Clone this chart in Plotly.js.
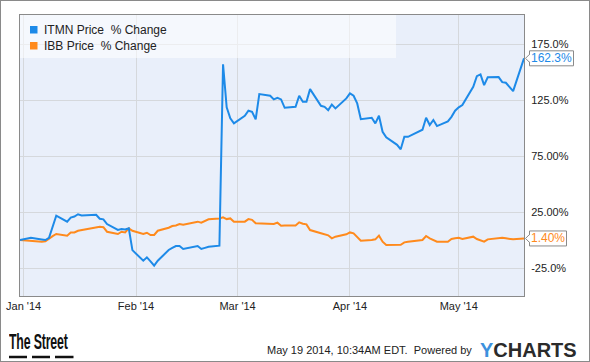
<!DOCTYPE html>
<html>
<head>
<meta charset="utf-8">
<script src="https://cdn.plot.ly/plotly-3.0.1.min.js"></script>
<style>
html,body{margin:0;padding:0;background:#fff;}
#wrap{position:relative;width:590px;height:362px;}
#chart{position:absolute;left:0;top:0;width:590px;height:362px;}
#frame{position:absolute;left:0;top:0;width:590px;height:362px;box-sizing:border-box;border:1px solid #8a8a8a;pointer-events:none;}
#logo{position:absolute;left:9px;top:331px;font-family:'Liberation Sans',Arial,sans-serif;font-weight:bold;font-size:22px;line-height:22px;color:#111;white-space:nowrap;transform:scaleX(0.56);transform-origin:0 0;letter-spacing:-0.3px;}
</style>
</head>
<body>
<div id="wrap"><div id="chart"></div><div id="logo">The Street</div><div id="frame"></div></div>
<script>
// ---- data ----
const dates = [
 '2013-12-31',
 '2014-01-02','2014-01-03','2014-01-06','2014-01-07','2014-01-08','2014-01-09','2014-01-10','2014-01-13','2014-01-14','2014-01-15','2014-01-16','2014-01-17','2014-01-21','2014-01-22','2014-01-23','2014-01-24','2014-01-27','2014-01-28','2014-01-29','2014-01-30','2014-01-31',
 '2014-02-03','2014-02-04','2014-02-05','2014-02-06','2014-02-07','2014-02-10','2014-02-11','2014-02-12','2014-02-13','2014-02-14','2014-02-18','2014-02-19','2014-02-20','2014-02-21','2014-02-24','2014-02-25','2014-02-26','2014-02-27','2014-02-28',
 '2014-03-03','2014-03-04','2014-03-05','2014-03-06','2014-03-07','2014-03-10','2014-03-11','2014-03-12','2014-03-13','2014-03-14','2014-03-17','2014-03-18','2014-03-19','2014-03-20','2014-03-21','2014-03-24','2014-03-25','2014-03-26','2014-03-27','2014-03-28','2014-03-31',
 '2014-04-01','2014-04-02','2014-04-03','2014-04-04','2014-04-07','2014-04-08','2014-04-09','2014-04-10','2014-04-11','2014-04-14','2014-04-15','2014-04-16','2014-04-17','2014-04-21','2014-04-22','2014-04-23','2014-04-24','2014-04-25','2014-04-28','2014-04-29','2014-04-30',
 '2014-05-01','2014-05-02','2014-05-05','2014-05-06','2014-05-07','2014-05-08','2014-05-09','2014-05-12','2014-05-13','2014-05-14','2014-05-15','2014-05-16','2014-05-19'
];
const itmn = [
 0,
 1, 2, 0.5, 0, 2, 12, 21.7, 16.4, 20, 21, 23, 22, 22.6, 19, 18.5, 14.3, 9, 9.8, 9.5, 10.4, -9,
 -18.5, -15.5, -19, -22.9, -18.5, -8.9, -7, -5.4, -5.4, -8, -5.4, -8, -7, -6, -5, 157, 118.5, 108.7, 104.2,
 111, 115.5, 114.6, 107.8, 130.4, 128.9, 125.6, 127, 125.6, 118.1, 119, 128.9, 123.5, 123.5, 134.8, 119.9, 119, 116, 121, 117.6, 126.5,
 131, 128.9, 122, 108, 109.2, 104.2, 111, 96.7, 91.7, 85, 81, 92.2, 92.2, 98.5, 109.2, 102.7, 107.2, 101.8, 106, 110, 115.5,
 118.5, 120.5, 136.9, 146.4, 148, 138.4, 145.3, 145.5, 141, 140.5, 137, 133, 162.3
];
const ibb = [
 0,
 -0.5, -1, -1.5, -1.2, 1.5, 3.5, 5.4, 3.9, 6.8, 6.8, 8.3, 8.8, 10.8, 11.9, 11.5, 7.4, 5.4, 7.4, 6.8, 10.4, 8.3,
 5.4, 6.5, 4.5, 4.5, 8.3, 11, 12.5, 13, 14.3, 13.7, 16.4, 15.5, 17, 18.5, 19.3, 20.2, 18.7, 19.3, 16.4,
 16.4, 18.7, 18, 14.9, 14.9, 14.9, 14.3, 15.5, 12.8, 13, 13, 15.8, 14.5, 14, 8.9, 6, 5.4, 4.2, 1.5, 3, 5.1,
 6.8, 6, 3, -0.6, 0, 0.6, 3.9, -1.5, -4.5, -4.5, -4.2, -2.1, -1.5, 0, 3.6, 1.5, 0, -1.5, -1.5, 0.9, 1.5,
 2, 0.9, 3, 0.9, 0, -1.5, 0.6, 2, 2, 1.5, 1, 0.6, 1.4
];
const seriesNames = ['ITMN Price\u00a0 % Change', 'IBB Price\u00a0 % Change'];
const xTickVals = ['2014-01-01','2014-02-01','2014-03-01','2014-04-01','2014-05-01'];
const xTickText = ["Jan '14","Feb '14","Mar '14","Apr '14","May '14"];
const yTickVals = [-25, 25, 75, 125, 175];
const yTickText = ['-25.0%','25.00%','75.00%','125.0%','175.0%'];

// ---- styling ----
const BLUE = '#1d8ae8', ORANGE = '#ff8a1c';
const W = 590, H = 362, L = 20, R = 66, T = 15, B = 66;
const PW = W - L - R, PH = H - T - B;
const yRange = [-50, 201];
const px = x => (x - L) / PW;          // pixel -> paper x
const py = y => (H - B - y) / PH;      // pixel -> paper y
const vy = v => (v - yRange[0]) / (yRange[1] - yRange[0]);

const traces = [
  {x: dates, y: ibb, type: 'scatter', mode: 'lines', name: seriesNames[1],
   line: {color: ORANGE, width: 2}, hoverinfo: 'skip'},
  {x: dates, y: itmn, type: 'scatter', mode: 'lines', name: seriesNames[0],
   line: {color: BLUE, width: 2}, hoverinfo: 'skip'}
];

function endLabel(v, txt, color, w) {
  const shapes = [
    {type: 'rect', xref: 'paper', yref: 'paper', xsizemode: 'pixel', ysizemode: 'pixel',
     xanchor: 1, yanchor: vy(v), x0: 5.5, x1: 5.5 + w, y0: -7.5, y1: 7.5,
     fillcolor: '#ffffff', line: {color: '#8a8a8a', width: 1}, layer: 'above'},
    {type: 'path', xref: 'paper', yref: 'paper', xsizemode: 'pixel', ysizemode: 'pixel',
     xanchor: 1, yanchor: vy(v), path: 'M6,-4L1.5,0L6,4Z',
     fillcolor: '#ffffff', line: {width: 0}, layer: 'above'},
    {type: 'path', xref: 'paper', yref: 'paper', xsizemode: 'pixel', ysizemode: 'pixel',
     xanchor: 1, yanchor: vy(v), path: 'M5.5,-4L1.5,0L5.5,4',
     line: {color: '#8a8a8a', width: 1}, layer: 'above'}
  ];
  const ann = {xref: 'paper', yref: 'y', x: 1, y: v, xanchor: 'center', yanchor: 'middle',
    xshift: 5.5 + w / 2, text: txt, showarrow: false,
    font: {family: 'Liberation Sans, Arial, sans-serif', size: 12, color: color}};
  return {shapes, ann};
}

const e1 = endLabel(itmn[itmn.length - 1], itmn[itmn.length - 1].toFixed(1) + '%', BLUE, 44);
const e2 = endLabel(ibb[ibb.length - 1], ibb[ibb.length - 1].toFixed(2) + '%', ORANGE, 37);

const shapes = [
  // legend background
  {type: 'rect', xref: 'paper', yref: 'paper', x0: 0, x1: px(396), y0: py(58), y1: 1,
   fillcolor: 'rgba(255,255,255,0.55)', line: {width: 0}, layer: 'above'},
  {type: 'rect', xref: 'paper', yref: 'paper', x0: px(30), x1: px(37.5), y0: py(33.5), y1: py(26),
   fillcolor: BLUE, line: {width: 0}, layer: 'above'},
  {type: 'rect', xref: 'paper', yref: 'paper', x0: px(30), x1: px(37.5), y0: py(49.5), y1: py(42),
   fillcolor: ORANGE, line: {width: 0}, layer: 'above'},
  // logo dashes
  {type: 'line', xref: 'paper', yref: 'paper', x0: px(9), x1: px(27), y0: py(357), y1: py(357), line: {color: '#111', width: 2.5}},
  {type: 'line', xref: 'paper', yref: 'paper', x0: px(32), x1: px(50), y0: py(357), y1: py(357), line: {color: '#111', width: 2.5}},
  {type: 'line', xref: 'paper', yref: 'paper', x0: px(55), x1: px(73.5), y0: py(357), y1: py(357), line: {color: '#111', width: 2.5}}
].concat(e1.shapes, e2.shapes);

const annotations = [
  {xref: 'paper', yref: 'paper', x: px(42), y: py(29.5), xanchor: 'left', yanchor: 'middle',
   text: seriesNames[0], showarrow: false, font: {family: 'Liberation Sans, Arial, sans-serif', size: 12, color: '#222'}},
  {xref: 'paper', yref: 'paper', x: px(42), y: py(45.5), xanchor: 'left', yanchor: 'middle',
   text: seriesNames[1], showarrow: false, font: {family: 'Liberation Sans, Arial, sans-serif', size: 12, color: '#222'}},
  {xref: 'paper', yref: 'paper', x: px(474), y: py(350), xanchor: 'right', yanchor: 'middle',
   text: 'May 19 2014, 10:34AM EDT.  Powered by', showarrow: false,
   font: {family: 'Liberation Sans, Arial, sans-serif', size: 11, color: '#222'}},
  {xref: 'paper', yref: 'paper', x: px(478), y: py(349.5), xanchor: 'left', yanchor: 'middle',
   text: '<span style="color:#3d91dd">Y</span>CHARTS', showarrow: false,
   font: {family: 'Liberation Sans, Arial, sans-serif', size: 20, weight: 'bold', color: '#2b2b2b'}},
  e1.ann, e2.ann
];

const layout = {
  width: W, height: H,
  margin: {l: L, r: R, t: T, b: B, pad: 0},
  paper_bgcolor: '#ffffff',
  plot_bgcolor: '#e9effa',
  showlegend: false,
  xaxis: {
    type: 'date', range: ['2013-12-31', '2014-05-19'],
    tickvals: xTickVals, ticktext: xTickText,
    showgrid: true, gridcolor: '#d5d8dc', gridwidth: 1,
    showline: true, linecolor: '#8a8a8a', linewidth: 1, mirror: true,
    ticks: '', zeroline: false,
    tickfont: {family: 'Liberation Sans, Arial, sans-serif', size: 11, color: '#222'}
  },
  yaxis: {
    range: yRange, side: 'right',
    tickvals: yTickVals, ticktext: yTickText,
    showgrid: true, gridcolor: '#d5d8dc', gridwidth: 1,
    showline: true, linecolor: '#8a8a8a', linewidth: 1, mirror: true,
    ticks: '', zeroline: false, ticklabelstandoff: 4,
    tickfont: {family: 'Liberation Sans, Arial, sans-serif', size: 11, color: '#222'}
  },
  shapes: shapes,
  annotations: annotations
};

Plotly.newPlot('chart', traces, layout, {displayModeBar: false, staticPlot: true});
</script>
</body>
</html>
